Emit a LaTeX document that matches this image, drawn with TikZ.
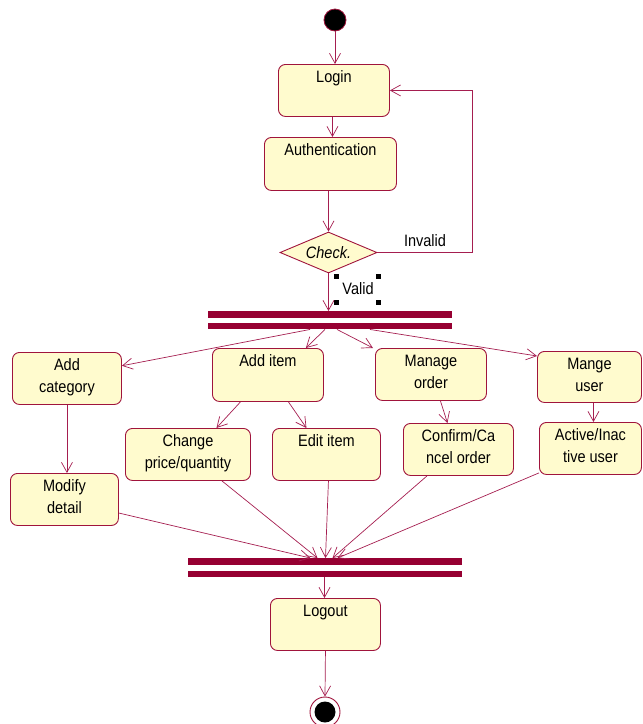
\documentclass[tikz,border=0pt]{standalone}
\usepackage{fontspec}
\setmainfont{Liberation Sans}[FakeStretch=0.88]
\usetikzlibrary{arrows.meta,shapes.geometric}
\definecolor{bord}{RGB}{160,20,60}
\definecolor{boxfill}{RGB}{255,251,206}
\definecolor{barc}{RGB}{150,0,50}
\definecolor{linec}{RGB}{165,30,80}
\begin{document}
\begin{tikzpicture}[x=1pt,y=-1pt,
  every node/.style={font=\fontsize{16.5}{22}\selectfont},
  act/.style={draw=bord, fill=boxfill, line width=0.9pt, rounded corners=7pt, inner sep=0pt, anchor=north west},
  lab/.style={anchor=north, inner sep=0pt, yshift=-6.5pt, align=center},
  flow/.style={draw=linec, line width=0.7pt, -{Straight Barb[length=10pt,width=11pt]}},
  syncbar/.style={fill=barc, inner sep=0pt, minimum height=6.5pt},
]
\useasboundingbox (0,0) rectangle (643,724);

% start and end
\node[circle, fill=black, draw=bord, line width=0.8pt, minimum size=22pt, inner sep=0pt] (start) at (335,20) {};
\node[circle, draw=bord, fill=white, line width=0.9pt, minimum size=30pt, inner sep=0pt] (end) at (325,712) {};
\node[circle, fill=black, minimum size=21pt, inner sep=0pt] (endin) at (end.center) {};

% activities
\node[act, minimum width=111pt, minimum height=52pt, label={[lab]north:Login}] (login) at (278,64) {};
\node[act, minimum width=132pt, minimum height=53pt, label={[lab]north:Authentication}] (auth) at (264,137) {};
\node[act, minimum width=109pt, minimum height=52pt, label={[lab]north:{Add\\category}}] (addcat) at (12,352) {};
\node[act, minimum width=111pt, minimum height=53pt, label={[lab]north:Add item}] (additem) at (212,348) {};
\node[act, minimum width=111pt, minimum height=52pt, label={[lab]north:{Manage\\order}}] (mo) at (375,348) {};
\node[act, minimum width=104pt, minimum height=51pt, label={[lab]north:{Mange\\user}}] (mu) at (537,351) {};
\node[act, minimum width=125pt, minimum height=52pt, label={[lab]north:{Change\\price/quantity}}] (cp) at (125,428) {};
\node[act, minimum width=108pt, minimum height=52pt, label={[lab]north:Edit item}] (ei) at (272,428) {};
\node[act, minimum width=110pt, minimum height=52pt, label={[lab]north:{Confirm/Ca\\ncel order}}] (co) at (403,423) {};
\node[act, minimum width=102pt, minimum height=52pt, label={[lab]north:{Active/Inac\\tive user}}] (ai) at (539,422) {};
\node[act, minimum width=108pt, minimum height=52pt, label={[lab]north:{Modify\\detail}}] (md) at (10,473) {};
\node[act, minimum width=110pt, minimum height=52pt, label={[lab]north:Logout}] (logout) at (270,598) {};

% decision
\node[diamond, draw=bord, fill=boxfill, line width=0.9pt, minimum width=97pt, minimum height=41pt, inner sep=0pt, aspect=2.4, font=\fontsize{16.5}{22}\selectfont\itshape] (check) at (328.5,252.5) {Check.};

% sync bars
\node[syncbar, minimum width=244pt] (forkA) at (330,314.5) {};
\node[syncbar, minimum width=244pt] (forkB) at (330,326) {};
\node[syncbar, minimum width=274pt] (joinA) at (324.5,561.5) {};
\node[syncbar, minimum width=274pt] (joinB) at (324.5,574) {};

% labels
\node (invalid) at (425,241) {Invalid};
\node (valid) at (358,289) {Valid};
\fill (333.5,273.5) rectangle ++(5,5);
\fill (375.5,273.5) rectangle ++(5,5);
\fill (333.5,300) rectangle ++(5,5);
\fill (375.5,300) rectangle ++(5,5);

% flows
\draw[flow] (start.south) -- (start.south |- login.north);
\draw[flow] ([xshift=-1.5pt]login.south) -- ([xshift=-1.5pt]login.south |- auth.north);
\draw[flow] (auth.south -| check.north) -- (check.north);
\draw[flow] (check.south) -- (check.south |- forkA.north);
\draw[flow] (check.east) -- ++(95,0) |- (login.east);

\draw[flow] ([xshift=-20pt]forkB.south) -- (addcat.13);
\draw[flow] ([xshift=-5pt]forkB.south) -- ([xshift=-18pt]additem.north east);
\draw[flow] ([xshift=7pt]forkB.south) -- ([xshift=-2pt]mo.north west);
\draw[flow] ([xshift=40pt]forkB.south) -- ([yshift=-5pt]mu.north west);

\draw[flow] (addcat.south) -- (addcat.south |- md.north);
\draw[flow] ([xshift=-27.5pt]additem.south) -- ([xshift=28.5pt]cp.north);
\draw[flow] ([xshift=20.5pt]additem.south) -- ([xshift=-20pt]ei.north);
\draw[flow] ([xshift=9.5pt]mo.south) -- ([xshift=-11pt]co.north);
\draw[flow] ([xshift=4pt]mu.south) -- ([xshift=4pt]mu.south |- ai.north);

\draw[flow] (md.-14) -- ([xshift=-14pt]joinA.north);
\draw[flow] ([xshift=34pt]cp.south) -- ([xshift=-7pt]joinA.north);
\draw[flow] ([xshift=2pt]ei.south) -- ([xshift=1pt]joinA.north);
\draw[flow] ([xshift=24pt]co.south west) -- ([xshift=8pt]joinA.north);
\draw[flow] ([yshift=2pt]ai.south west) -- ([xshift=13pt]joinA.north);

\draw[flow] (joinB.south) -- (joinB.south |- logout.north);
\draw[flow] (logout.south) -- (end.north);
\end{tikzpicture}
\end{document}
